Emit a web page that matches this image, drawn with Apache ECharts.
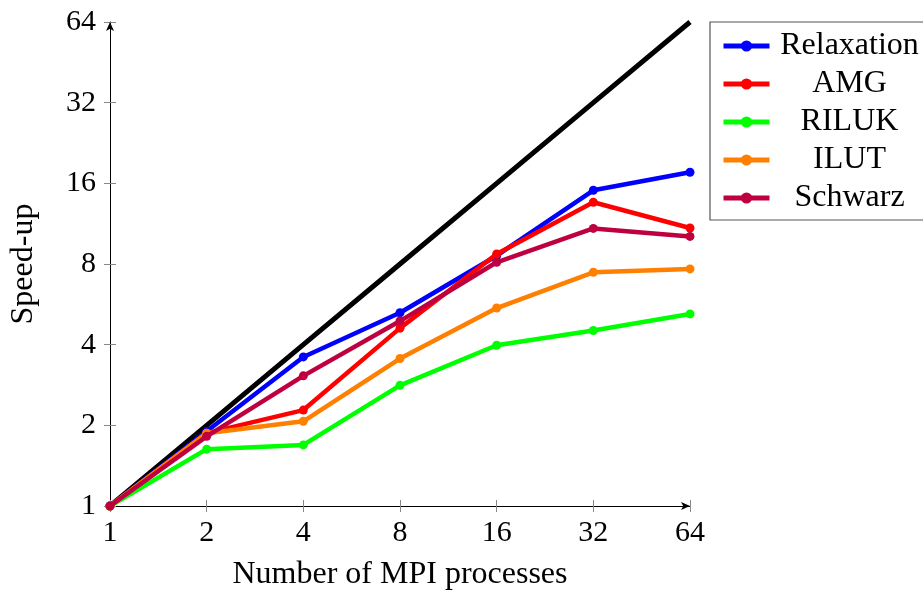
<!DOCTYPE html>
<html><head><meta charset="utf-8">
<script src="https://cdn.jsdelivr.net/npm/echarts@6/dist/echarts.min.js"></script>
<style>html,body{margin:0;padding:0;background:#fff}#c{width:923px;height:596px}</style>
</head><body><div id="c"></div>
<script>
const procs = [1, 2, 4, 8, 16, 32, 64];
const ideal = [1, 2, 4, 8, 16, 32, 64];
const relaxation = [1, 1.90, 3.60, 5.26, 8.59, 15.07, 17.6];
const amg = [1, 1.87, 2.28, 4.61, 8.72, 13.6, 10.9];
const riluk = [1, 1.63, 1.69, 2.82, 3.98, 4.52, 5.21];
const ilut = [1, 1.87, 2.07, 3.55, 5.48, 7.45, 7.67];
const schwarz = [1, 1.82, 3.06, 4.90, 8.12, 10.86, 10.14];
const seriesNames = ['Relaxation', 'AMG', 'RILUK', 'ILUT', 'Schwarz'];
const seriesColors = ['#0000ff', '#ff0000', '#00ff00', '#ff8000', '#bf0040'];
const seriesValues = [relaxation, amg, riluk, ilut, schwarz];

const font = '"Liberation Serif", "DejaVu Serif", serif';
const fs = 30;
const fsName = 32;
const pair = v => procs.map((p, i) => [p, v[i]]);

const series = [{
  name: 'Ideal', type: 'line', data: pair(ideal), showSymbol: false, symbol: 'none',
  lineStyle: { color: '#000', width: 5 }, itemStyle: { color: '#000' }, z: 1, silent: true
}];
seriesNames.forEach((n, i) => {
  series.push({
    name: n, type: 'line', data: pair(seriesValues[i]),
    symbol: 'circle', symbolSize: 9,
    lineStyle: { color: seriesColors[i], width: 4.5 },
    itemStyle: { color: seriesColors[i] }, z: 2 + i
  });
});

const axisCommon = {
  type: 'log', logBase: 2, min: 1, max: 64,
  axisLine: { show: true, lineStyle: { color: '#000', width: 1 }, symbol: ['none', 'arrow'], symbolSize: [6, 9], symbolOffset: [0, 0] },
  axisTick: { show: true, length: 6, lineStyle: { color: '#888', width: 1 } },
  minorTick: { show: false },
  splitLine: { show: false },
  axisLabel: { color: '#000', fontFamily: font, fontSize: fs },
  nameTextStyle: { color: '#000', fontFamily: font, fontSize: fsName }
};
const innerTicks = {
  type: 'log', logBase: 2, min: 1, max: 64,
  axisLine: { show: false }, splitLine: { show: false },
  axisLabel: { show: false },
  axisTick: { show: true, inside: true, length: 6, lineStyle: { color: '#888', width: 1 } }
};

const chart = echarts.init(document.getElementById('c'), null, { renderer: 'canvas' });
chart.setOption({
  animation: false,
  backgroundColor: '#fff',
  grid: { left: 108, right: 233, top: 22, bottom: 88, containLabel: false },
  xAxis: [Object.assign({}, axisCommon, {
    name: 'Number of MPI processes', nameLocation: 'middle', nameGap: 53,
    axisLabel: Object.assign({}, axisCommon.axisLabel, { margin: 12 })
  }), Object.assign({}, innerTicks, { position: 'bottom' })],
  yAxis: [Object.assign({}, axisCommon, {
    name: 'Speed-up', nameLocation: 'middle', nameGap: 70, nameRotate: 90,
    axisLabel: Object.assign({}, axisCommon.axisLabel, { margin: 14 })
  }), Object.assign({}, innerTicks, { position: 'left' })],
  legend: {
    data: seriesNames, orient: 'vertical', left: 710, top: 22,
    borderColor: '#555', borderWidth: 1.2, padding: [8, 3, 6, 11],
    itemWidth: 46, itemHeight: 14, itemGap: 6,
    lineStyle: { width: 5 },
    formatter: '{a|{name}}',
    textStyle: { color: '#000', fontFamily: font, fontSize: fsName, rich: { a: { width: 150, align: 'center', fontFamily: font, fontSize: fsName, lineHeight: 30, color: '#000' } } }
  },
  series: series
});
</script></body></html>
